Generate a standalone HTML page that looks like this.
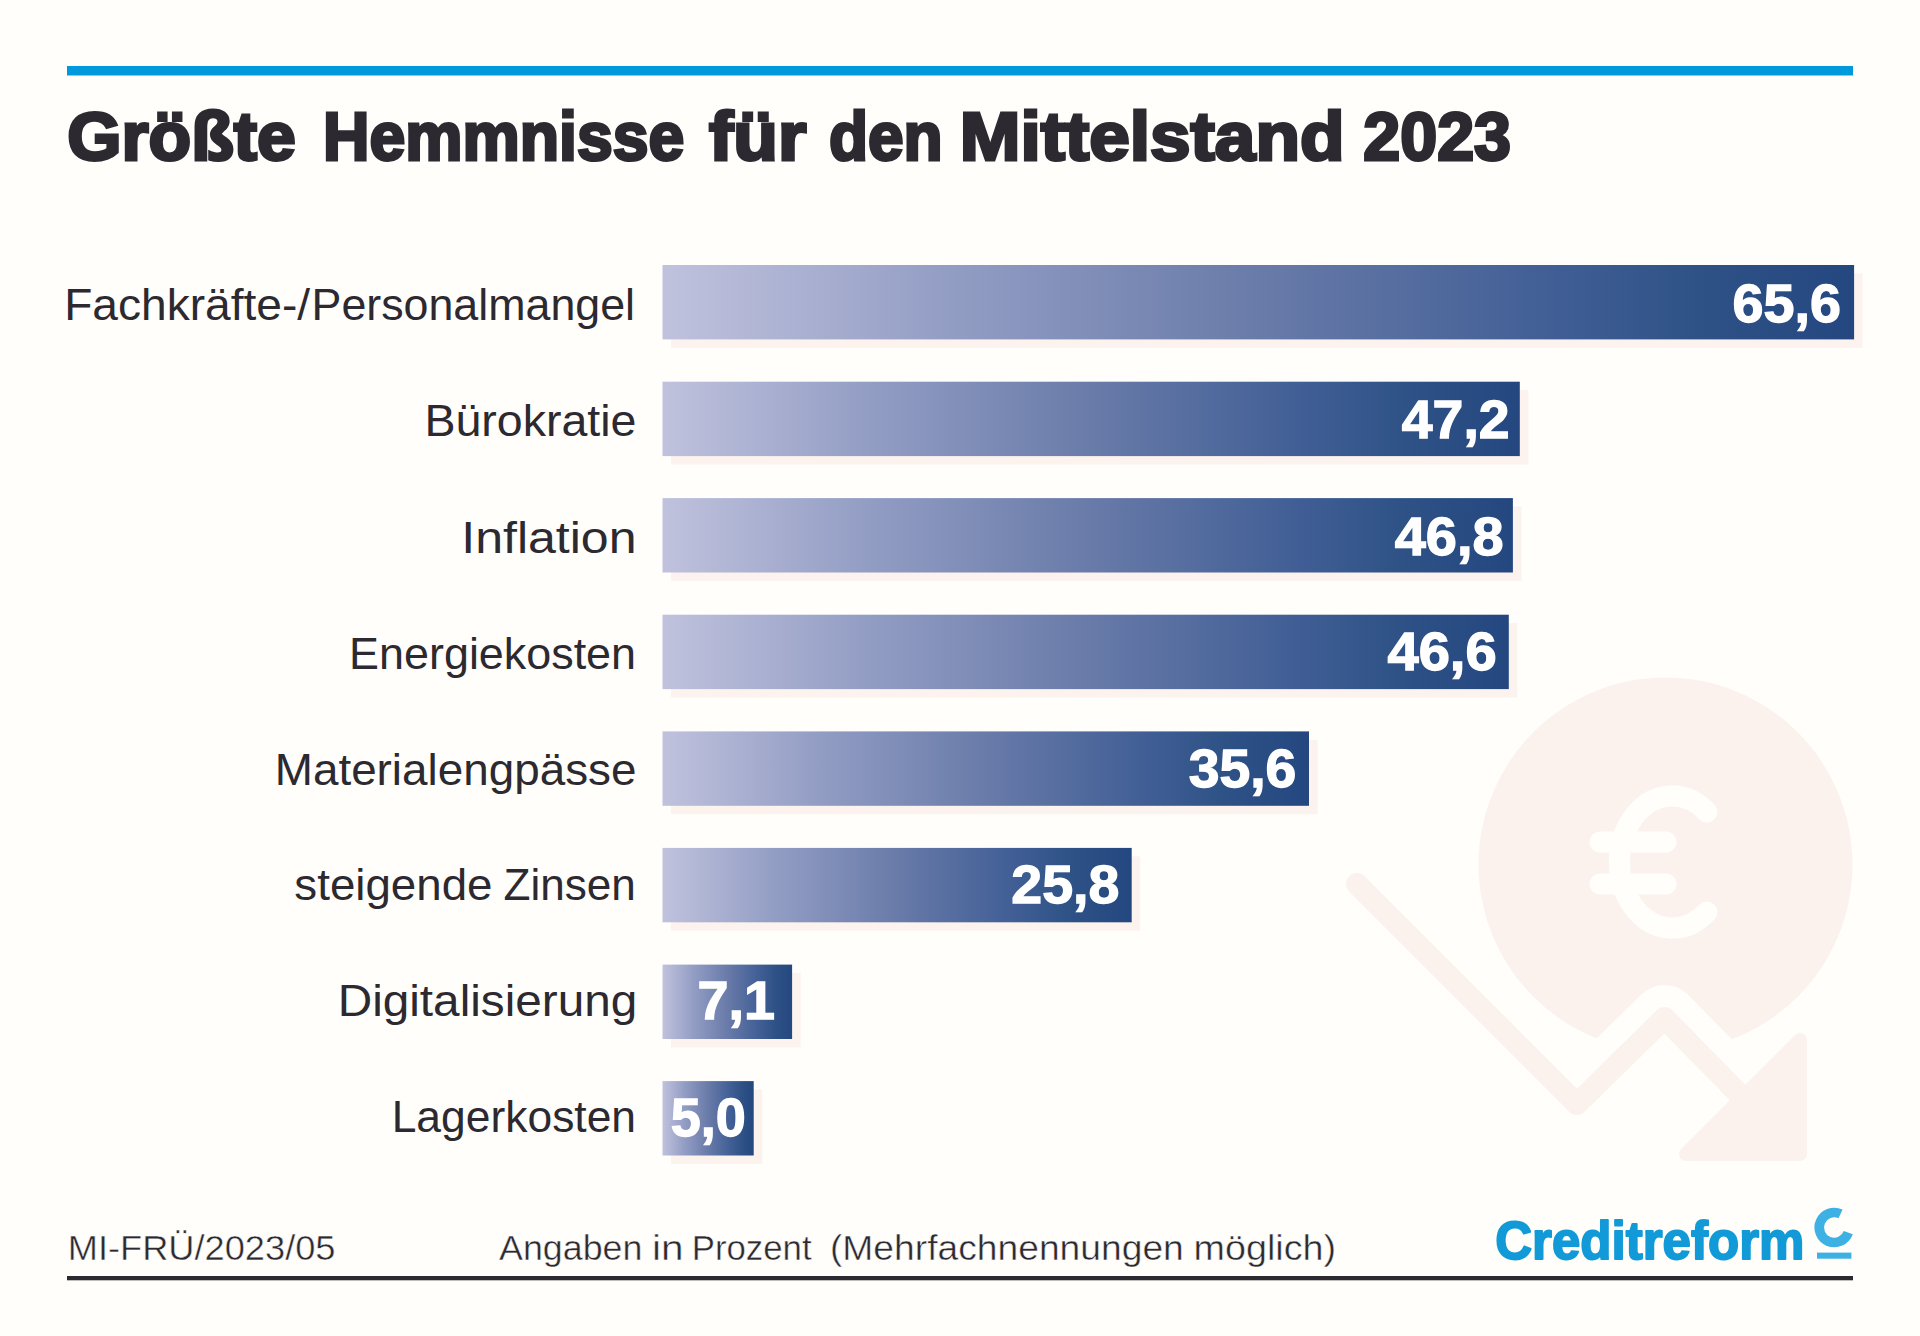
<!DOCTYPE html>
<html lang="de"><head><meta charset="utf-8">
<title>Größte Hemmnisse für den Mittelstand 2023</title>
<style>
html,body{margin:0;padding:0;background:#fffefa;}
body{width:1920px;height:1336px;overflow:hidden;position:relative;}
svg{display:block;position:absolute;left:0;top:0;}
text{font-family:"Liberation Sans",sans-serif;}
.lbl{font-size:44px;fill:#2c2930;}
.val{font-size:53.6px;font-weight:bold;fill:#fff;stroke:#fff;stroke-width:1.3px;stroke-linejoin:miter;}
.ttl{font-size:69px;font-weight:bold;fill:#2c2930;stroke:#2c2930;stroke-width:3.1px;stroke-linejoin:miter;stroke-miterlimit:2.5;}
.ftr{font-size:35px;fill:#2c2930;stroke:#fffefa;stroke-width:0.45px;}
.logo{font-size:54px;font-weight:bold;fill:#119ad7;stroke:#119ad7;stroke-width:1.9px;stroke-linejoin:round;}
</style></head><body>
<svg width="1920" height="1336" viewBox="0 0 1920 1336">
<defs>
<linearGradient id="g" x1="0" y1="0" x2="1" y2="0">
<stop offset="0" stop-color="#c0c2dd"/>
<stop offset="0.25" stop-color="#919cc3"/>
<stop offset="0.5" stop-color="#697ba9"/>
<stop offset="0.75" stop-color="#405e95"/>
<stop offset="0.87" stop-color="#2e5286"/>
<stop offset="1" stop-color="#244780"/>
</linearGradient>
<filter id="sb" x="-5%" y="-20%" width="110%" height="140%"><feGaussianBlur stdDeviation="0.7"/></filter>
<mask id="cut" maskUnits="userSpaceOnUse" x="1300" y="600" width="620" height="620">
<rect x="1300" y="600" width="620" height="620" fill="#fff"/>
<polyline points="1357,884 1577,1104 1664.5,1018 1760,1115" fill="none" stroke="#000" stroke-width="66" stroke-linejoin="round" stroke-linecap="round"/>
<path d="M1798,1040 L1798,1150 L1688,1150 Z" fill="#000" stroke="#000" stroke-width="58" stroke-linejoin="round"/>
</mask>
</defs>
<rect x="0" y="0" width="1920" height="1336" fill="#fffefa"/>
<g id="icon">
<circle cx="1665.5" cy="864.5" r="187" fill="#fbf2ed" mask="url(#cut)"/>
<polyline points="1357,884 1577,1104 1664.5,1018 1740,1095" fill="none" stroke="#fbf2ed" stroke-width="22" stroke-linejoin="round" stroke-linecap="round"/>
<path d="M1800,1040 L1800,1154 L1686,1154 Z" fill="#fbf2ed" stroke="#fbf2ed" stroke-width="14" stroke-linejoin="round"/>
<g fill="none" stroke="#fffefa" stroke-width="21" stroke-linecap="round">
<path d="M1707,812 A53,66 0 1 0 1707,912"/>
<line x1="1600" y1="842" x2="1666" y2="842"/>
<line x1="1600" y1="884" x2="1666" y2="884"/>
</g>
</g>
<rect x="67" y="66" width="1786" height="9.5" fill="#009adc"/>
<text class="ttl" y="159.50"><tspan x="67.17" textLength="228.64" lengthAdjust="spacingAndGlyphs">Größte</tspan> <tspan x="323.06" textLength="361.36" lengthAdjust="spacingAndGlyphs">Hemmnisse</tspan> <tspan x="708.98" textLength="97.43" lengthAdjust="spacingAndGlyphs">für</tspan> <tspan x="828.93" textLength="113.65" lengthAdjust="spacingAndGlyphs">den</tspan> <tspan x="959.73" textLength="384.75" lengthAdjust="spacingAndGlyphs">Mittelstand</tspan> <tspan x="1363.36" textLength="147.63" lengthAdjust="spacingAndGlyphs">2023</tspan></text>
<rect x="671.1" y="273.4" width="1191.6" height="74.4" fill="#fcf2ee" filter="url(#sb)"/>
<rect x="662.5" y="265.0" width="1191.6" height="74.4" fill="url(#g)"/>
<text class="lbl" y="319.70"><tspan x="64.15" textLength="246.05" lengthAdjust="spacingAndGlyphs">Fachkräfte-/</tspan> <tspan x="311.53" textLength="323.55" lengthAdjust="spacingAndGlyphs">Personalmangel</tspan></text>
<text class="val" y="322.40"><tspan x="1732.49" textLength="108.42" lengthAdjust="spacingAndGlyphs">65,6</tspan></text>
<rect x="671.1" y="390.1" width="857.3" height="74.4" fill="#fcf2ee" filter="url(#sb)"/>
<rect x="662.5" y="381.7" width="857.3" height="74.4" fill="url(#g)"/>
<text class="lbl" y="436.25"><tspan x="424.41" textLength="212.08" lengthAdjust="spacingAndGlyphs">Bürokratie</tspan></text>
<text class="val" y="438.30"><tspan x="1401.84" textLength="107.70" lengthAdjust="spacingAndGlyphs">47,2</tspan></text>
<rect x="671.1" y="506.5" width="850.4" height="74.4" fill="#fcf2ee" filter="url(#sb)"/>
<rect x="662.5" y="498.1" width="850.4" height="74.4" fill="url(#g)"/>
<text class="lbl" y="552.90"><tspan x="461.25" textLength="175.29" lengthAdjust="spacingAndGlyphs">Inflation</tspan></text>
<text class="val" y="554.60"><tspan x="1394.76" textLength="108.80" lengthAdjust="spacingAndGlyphs">46,8</tspan></text>
<rect x="671.1" y="623.1" width="846.3" height="74.4" fill="#fcf2ee" filter="url(#sb)"/>
<rect x="662.5" y="614.7" width="846.3" height="74.4" fill="url(#g)"/>
<text class="lbl" y="669.00"><tspan x="349.12" textLength="286.94" lengthAdjust="spacingAndGlyphs">Energiekosten</tspan></text>
<text class="val" y="670.40"><tspan x="1387.45" textLength="109.23" lengthAdjust="spacingAndGlyphs">46,6</tspan></text>
<rect x="671.1" y="739.8" width="646.5" height="74.4" fill="#fcf2ee" filter="url(#sb)"/>
<rect x="662.5" y="731.4" width="646.5" height="74.4" fill="url(#g)"/>
<text class="lbl" y="784.50"><tspan x="274.75" textLength="361.70" lengthAdjust="spacingAndGlyphs">Materialengpässe</tspan></text>
<text class="val" y="786.50"><tspan x="1188.70" textLength="107.60" lengthAdjust="spacingAndGlyphs">35,6</tspan></text>
<rect x="671.1" y="856.3" width="469.2" height="74.4" fill="#fcf2ee" filter="url(#sb)"/>
<rect x="662.5" y="847.9" width="469.2" height="74.4" fill="url(#g)"/>
<text class="lbl" y="899.50"><tspan x="294.37" textLength="198.07" lengthAdjust="spacingAndGlyphs">steigende</tspan> <tspan x="503.55" textLength="132.31" lengthAdjust="spacingAndGlyphs">Zinsen</tspan></text>
<text class="val" y="903.20"><tspan x="1011.36" textLength="107.93" lengthAdjust="spacingAndGlyphs">25,8</tspan></text>
<rect x="671.1" y="973.0" width="129.6" height="74.4" fill="#fcf2ee" filter="url(#sb)"/>
<rect x="662.5" y="964.6" width="129.6" height="74.4" fill="url(#g)"/>
<text class="lbl" y="1015.80"><tspan x="337.71" textLength="299.56" lengthAdjust="spacingAndGlyphs">Digitalisierung</tspan></text>
<text class="val" y="1019.20"><tspan x="697.47" textLength="77.46" lengthAdjust="spacingAndGlyphs">7,1</tspan></text>
<rect x="671.1" y="1089.5" width="91.2" height="74.4" fill="#fcf2ee" filter="url(#sb)"/>
<rect x="662.5" y="1081.1" width="91.2" height="74.4" fill="url(#g)"/>
<text class="lbl" y="1132.00"><tspan x="391.68" textLength="244.38" lengthAdjust="spacingAndGlyphs">Lagerkosten</tspan></text>
<text class="val" y="1136.30"><tspan x="670.72" textLength="75.00" lengthAdjust="spacingAndGlyphs">5,0</tspan></text>
<text class="ftr" y="1260.00"><tspan x="67.74" textLength="267.79" lengthAdjust="spacingAndGlyphs">MI-FRÜ/2023/05</tspan></text>
<text class="ftr" y="1260.00"><tspan x="498.99" textLength="143.46" lengthAdjust="spacingAndGlyphs">Angaben</tspan> <tspan x="652.04" textLength="31.55" lengthAdjust="spacingAndGlyphs">in</tspan> <tspan x="691.73" textLength="119.88" lengthAdjust="spacingAndGlyphs">Prozent</tspan> <tspan x="829.96" textLength="353.87" lengthAdjust="spacingAndGlyphs">(Mehrfachnennungen</tspan> <tspan x="1193.49" textLength="142.64" lengthAdjust="spacingAndGlyphs">möglich)</tspan></text>
<rect x="67" y="1276" width="1786" height="4.3" fill="#2c2930"/>
<text class="logo" y="1258.75"><tspan x="1495.18" textLength="309.25" lengthAdjust="spacingAndGlyphs">Creditreform</tspan></text>
<path d="M1848.30,1232.63 A15.0,15.0 0 1 1 1840.54,1213.91" fill="none" stroke="#3eb1e4" stroke-width="9.6"/>
<rect x="1817" y="1252.6" width="34.4" height="6.1" fill="#3eb1e4"/>
</svg>
</body></html>
